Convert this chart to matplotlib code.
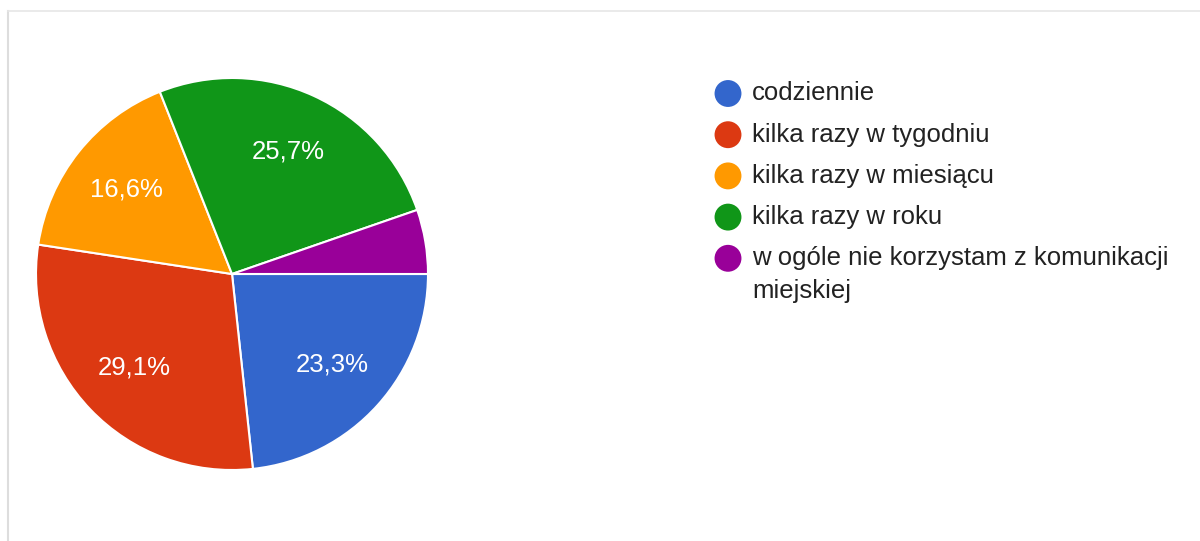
import matplotlib.pyplot as plt
from matplotlib.lines import Line2D
import numpy as np

plt.rcParams['font.family'] = ['Liberation Sans', 'DejaVu Sans']

labels = ['codziennie', 'kilka razy w tygodniu', 'kilka razy w miesiącu',
          'kilka razy w roku', 'w ogóle nie korzystam z komunikacji\nmiejskiej']
shares = [23.3, 29.1, 16.6, 25.7, 5.3]
pct_text = ['23,3%', '29,1%', '16,6%', '25,7%', '']
colors = ['#3366CC', '#DC3912', '#FF9900', '#109618', '#990099']

W, H = 1200, 541
fig = plt.figure(figsize=(12, 5.41), dpi=100)

# pie centre and radius in pixels
cx, cy, r = 232, 274, 196
ax = fig.add_axes([(cx - r) / W, (H - cy - r) / H, 2 * r / W, 2 * r / H])
wedges, _ = ax.pie(shares, colors=colors, startangle=0, counterclock=False,
                   radius=1, wedgeprops=dict(edgecolor='white', linewidth=1.5))
ax.set_xlim(-1, 1)
ax.set_ylim(-1, 1)
ax.set_aspect('equal')
ax.axis('off')

# percentage labels inside wedges
for w, t in zip(wedges, pct_text):
    if not t:
        continue
    ang = np.radians((w.theta1 + w.theta2) / 2)
    ax.text(0.69 * np.cos(ang), 0.69 * np.sin(ang), t, color='white',
            fontsize=18.5, ha='center', va='center')

# legend drawn by hand so marker sits on the first line
lax = fig.add_axes([0, 0, 1, 1])
lax.set_xlim(0, W)
lax.set_ylim(H, 0)
lax.axis('off')
y0, step, line_h = 93.5, 41.2, 32.5
for i, (lab, c) in enumerate(zip(labels, colors)):
    y = y0 + i * step
    lax.scatter([728], [y], s=375, color=c, edgecolor='none')
    for j, part in enumerate(lab.split('\n')):
        lax.text(752, y + 7 + j * line_h, part, fontsize=18.5, color='#222222',
                 ha='left', va='baseline')

# light frame on left and top
fig.add_artist(Line2D([8 / W, 8 / W], [0, 1 - 11 / H], color='#dddddd', lw=1.5))
fig.add_artist(Line2D([8 / W, 1], [1 - 11 / H, 1 - 11 / H], color='#e6e6e6', lw=1.2))

fig.savefig('out.png', dpi=100, facecolor='white')
